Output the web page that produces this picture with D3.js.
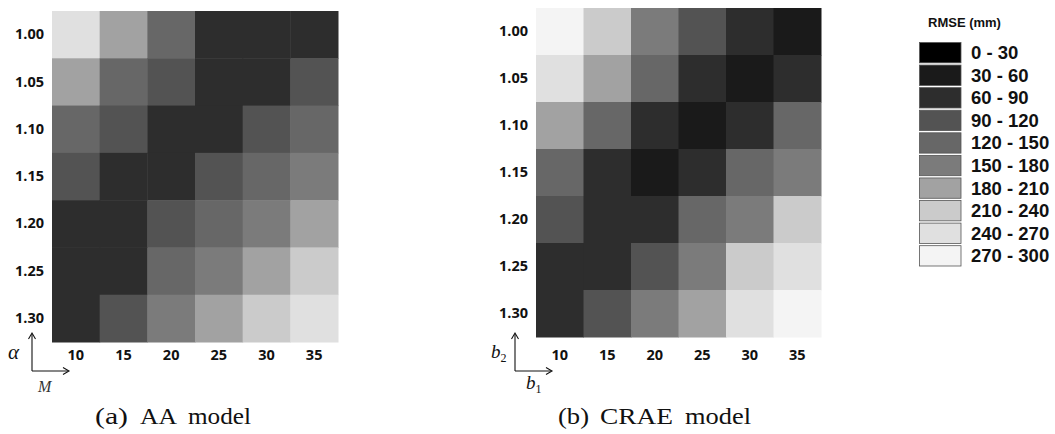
<!DOCTYPE html>
<html>
<head>
<meta charset="utf-8">
<script src="https://cdn.jsdelivr.net/npm/d3@7"></script>
<style>
  body { margin: 0; background: #fff; }
  svg { display: block; }
</style>
</head>
<body>
<div id="chart"></div>
<script>
// column / row categories
const xValues = ["10", "15", "20", "25", "30", "35"];
const yValues = ["1.00", "1.05", "1.10", "1.15", "1.20", "1.25", "1.30"];

// legend bins
const legendLabels = ["0 - 30", "30 - 60", "60 - 90", "90 - 120", "120 - 150",
  "150 - 180", "180 - 210", "210 - 240", "240 - 270", "270 - 300"];
const legendColors = ["#000000", "#1a1a1a", "#2d2d2d", "#535353", "#676767",
  "#7b7b7b", "#a2a2a2", "#cbcbcb", "#e0e0e0", "#f4f4f4"];

// RMSE (mm), read as bin midpoints; rows = yValues, cols = xValues
const aaRmse = [
  [255, 195, 135, 75, 75, 75],
  [195, 135, 105, 75, 75, 105],
  [135, 105, 75, 75, 105, 135],
  [105, 75, 75, 105, 135, 165],
  [75, 75, 105, 135, 165, 195],
  [75, 75, 135, 165, 195, 225],
  [75, 105, 165, 195, 225, 255]
];
const craeRmse = [
  [285, 225, 165, 105, 75, 45],
  [255, 195, 135, 75, 45, 75],
  [195, 135, 75, 45, 75, 135],
  [135, 75, 45, 75, 135, 165],
  [105, 75, 75, 135, 165, 225],
  [75, 75, 105, 165, 225, 255],
  [75, 105, 165, 195, 255, 285]
];

const width = 1055;
const height = 434;

const svg = d3.select("#chart")
  .append("svg")
  .attr("width", width)
  .attr("height", height)
  .attr("viewBox", [0, 0, width, height]);

const color = d3.scaleQuantize()
  .domain([0, 300])
  .range(legendColors);

const tickFont = "'Open Sans', 'DejaVu Sans', sans-serif";
const mathFont = "'Liberation Serif', 'DejaVu Serif', serif";
const tickLabelTop = 350;

function panel(data, box, opts) {
  const x = d3.scaleBand().domain(xValues).range([box.x0, box.x1]);
  const y = d3.scaleBand().domain(yValues).range([box.y0, box.y1]);

  const g = svg.append("g");

  g.append("g")
    .selectAll("g")
    .data(data)
    .join("g")
    .each(function (row, i) {
      d3.select(this).selectAll("rect")
        .data(row)
        .join("rect")
        .attr("x", (d, j) => x(xValues[j]))
        .attr("y", y(yValues[i]))
        .attr("width", x.bandwidth() + 0.5)
        .attr("height", y.bandwidth() + 0.5)
        .attr("fill", d => color(d));
    });

  // Axes
  g.append("g")
    .attr("transform", `translate(${box.x0 - 8},0)`)
    .call(d3.axisLeft(y).tickSize(0).tickPadding(0))
    .call(a => a.select(".domain").remove())
    .call(a => a.selectAll("text")
      .attr("font-family", tickFont)
      .attr("font-weight", "bold")
      .attr("font-size", 14.5)
      .attr("fill", "#111"));

  g.append("g")
    .attr("transform", `translate(0,${tickLabelTop})`)
    .call(d3.axisBottom(x).tickSize(0).tickPadding(0))
    .call(a => a.select(".domain").remove())
    .call(a => a.selectAll("text")
      .attr("font-family", tickFont)
      .attr("font-weight", "bold")
      .attr("font-size", 14.5)
      .attr("fill", "#111"));

  // corner arrows
  const ax = opts.arrowX, ay = 371;
  const ag = g.append("g").attr("stroke", "#111").attr("stroke-width", 1.1).attr("fill", "none");
  ag.append("path").attr("d", `M${ax},${ay} V${ay - 37}`);
  ag.append("path").attr("d", `M${ax},${ay} H${ax + 36}`);
  ag.append("path").attr("d", `M${ax - 3.5},${ay - 32} L${ax},${ay - 38} L${ax + 3.5},${ay - 32}`);
  ag.append("path").attr("d", `M${ax + 31},${ay - 3.5} L${ax + 37},${ay} L${ax + 31},${ay + 3.5}`);

  opts.yLabel(g, ax);
  opts.xLabel(g, ax);

  // caption, word by word
  g.append("g")
    .selectAll("text")
    .data(opts.caption)
    .join("text")
    .attr("x", d => d.x)
    .attr("y", 424)
    .attr("font-family", mathFont)
    .attr("font-size", 24)
    .attr("fill", "#111")
    .attr("textLength", d => d.w)
    .attr("lengthAdjust", "spacingAndGlyphs")
    .text(d => d.t);
}

panel(aaRmse, { x0: 52, x1: 338, y0: 11, y1: 342 }, {
  arrowX: 32,
  caption: [{ t: "(a)", x: 95, w: 33 }, { t: "AA", x: 140, w: 37 }, { t: "model", x: 188, w: 63 }],
  yLabel: (g, ax) => g.append("text")
    .attr("x", ax - 24).attr("y", 359)
    .attr("font-family", mathFont).attr("font-style", "italic")
    .attr("font-size", 21).attr("fill", "#111").text("α"),
  xLabel: (g, ax) => g.append("text")
    .attr("x", ax + 6).attr("y", 392)
    .attr("font-family", mathFont).attr("font-style", "italic")
    .attr("font-size", 16).attr("fill", "#333").text("M")
});

panel(craeRmse, { x0: 536, x1: 821, y0: 8, y1: 337 }, {
  arrowX: 515,
  caption: [{ t: "(b)", x: 558, w: 31 }, { t: "CRAE", x: 600, w: 73 }, { t: "model", x: 685, w: 66 }],
  yLabel: (g, ax) => {
    const t = g.append("text")
      .attr("x", ax - 24).attr("y", 358)
      .attr("font-family", mathFont).attr("font-style", "italic")
      .attr("font-size", 19).attr("fill", "#111");
    t.append("tspan").text("b");
    t.append("tspan").attr("font-style", "normal").attr("font-size", 12).attr("dy", 4).text("2");
  },
  xLabel: (g, ax) => {
    const t = g.append("text")
      .attr("x", ax + 11).attr("y", 389)
      .attr("font-family", mathFont).attr("font-style", "italic")
      .attr("font-size", 19).attr("fill", "#111");
    t.append("tspan").text("b");
    t.append("tspan").attr("font-style", "normal").attr("font-size", 12).attr("dy", 4).text("1");
  }
});

// Legend
const legend = svg.append("g");
legend.append("text")
  .attr("x", 928)
  .attr("y", 27)
  .attr("font-family", "'Liberation Sans', Arial, sans-serif")
  .attr("font-weight", "bold")
  .attr("font-size", 13)
  .attr("fill", "#111")
  .text("RMSE (mm)");

const ly = d3.scaleBand()
  .domain(legendLabels)
  .range([42.5, 266])
  .paddingInner(0.1);

const item = legend.selectAll("g.item")
  .data(legendLabels)
  .join("g")
  .attr("class", "item");

item.append("rect")
  .attr("x", 919.5)
  .attr("y", d => ly(d))
  .attr("width", 41.5)
  .attr("height", ly.bandwidth())
  .attr("fill", (d, i) => legendColors[i])
  .attr("stroke", "#555")
  .attr("stroke-width", 0.8);

item.append("text")
  .attr("x", 971)
  .attr("y", d => ly(d) + ly.bandwidth() / 2 + 6.5)
  .attr("font-family", "'Liberation Sans', Arial, sans-serif")
  .attr("font-weight", "bold")
  .attr("font-size", 18.5)
  .attr("fill", "#111")
  .text(d => d);
</script>
</body>
</html>
